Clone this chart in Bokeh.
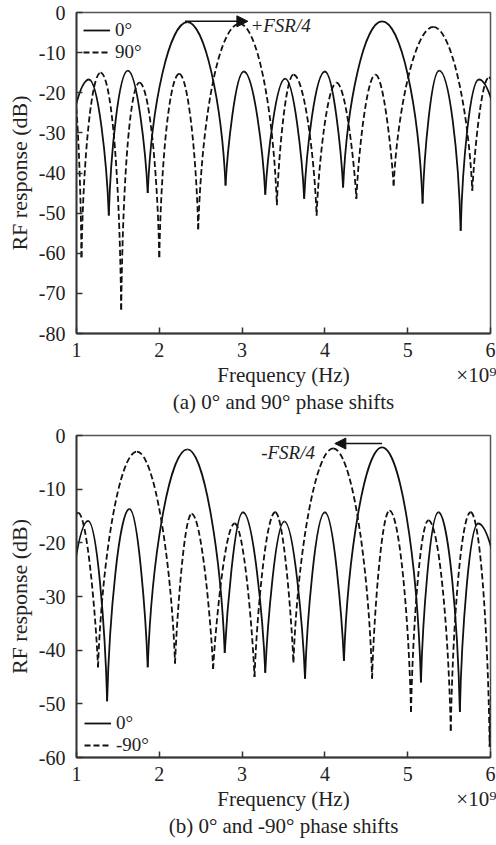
from bokeh.plotting import figure
from bokeh.models import (Range1d, Legend, LegendItem, Arrow, NormalHead, Label,
                          ColumnDataSource, LinearAxis, FixedTicker)
from bokeh.layouts import column
from bokeh.embed import file_html
from bokeh.resources import INLINE

FONT = "Liberation Serif"

# x ticks (x10^9 Hz)
x_ticks = [1, 2, 3, 4, 5, 6]
a_y_ticks = [0, -10, -20, -30, -40, -50, -60, -70, -80]
b_y_ticks = [0, -10, -20, -30, -40, -50, -60]

# Panel (a): extrema (alternating nulls / lobe peaks)
a0_freq = [0.82, 1.15, 1.39, 1.62, 1.86, 2.34, 2.80, 3.02, 3.28, 3.52, 3.75, 4.00,
           4.22, 4.69, 5.18, 5.38, 5.64, 5.86, 6.22]
a0_db = [-45, -16.7, -50.6, -14.5, -45.0, -2.4, -43.1, -14.7, -45.4, -16.5, -46.4, -14.7,
         -43.6, -2.2, -47.6, -14.5, -54.4, -16.7, -45]
a90_freq = [0.93, 1.06, 1.29, 1.54, 1.76, 2.00, 2.24, 2.47, 2.97, 3.42, 3.62, 3.90,
            4.14, 4.38, 4.61, 4.83, 5.31, 5.78, 5.98, 6.25]
a90_db = [-15, -61, -15.0, -74, -17.5, -61, -15.3, -54, -2.8, -48, -15.5, -50.6,
          -17.5, -46.4, -15.5, -43.1, -3.6, -44.4, -16.2, -45]

# Panel (b)
b0_freq = [0.84, 1.14, 1.37, 1.64, 1.86, 2.34, 2.79, 3.01, 3.28, 3.51, 3.76, 4.00,
           4.23, 4.69, 5.16, 5.37, 5.63, 5.85, 6.25]
b0_db = [-45, -15.9, -49.5, -13.7, -43.2, -2.6, -40.5, -14.3, -44.2, -16.0, -45.3, -14.3,
         -42.0, -2.2, -46.0, -14.3, -51.5, -16.4, -45]
bm90_freq = [0.78, 1.02, 1.26, 1.73, 2.19, 2.39, 2.65, 2.91, 3.15, 3.40, 3.62, 4.10,
             4.57, 4.78, 5.04, 5.25, 5.52, 5.76, 5.99, 6.22]
bm90_db = [-45, -14.4, -43.2, -3.0, -42.5, -14.6, -43.5, -16.4, -45.0, -14.3, -42.3, -2.4,
           -45.3, -14.0, -51.5, -15.8, -55.0, -14.3, -58.0, -15]

X_TITLE = "Frequency (Hz)"
X_EXP = "\u00d710\u2079"
CAP_A = "(a) 0\u00b0 and 90\u00b0 phase shifts"
CAP_B = "(b) 0\u00b0 and -90\u00b0 phase shifts"


def lobe_source(freqs, levels):
    d = dict(x0=[], y0=[], x1=[], y1=[], cx0=[], cy0=[], cx1=[], cy1=[])
    for i in range(len(freqs) - 1):
        fa, la, fb, lb = freqs[i], levels[i], freqs[i + 1], levels[i + 1]
        rising = la < lb
        if rising:
            fn, ln, fp, lp = fa, la, fb, lb
        else:
            fn, ln, fp, lp = fb, lb, fa, la
        w = fp - fn
        cn = (fn + 0.1 * w, max(lp - 20, ln))
        cp = (fn + 0.55 * w, lp)
        c0, c1 = (cn, cp) if rising else (cp, cn)
        d["x0"].append(fa); d["y0"].append(la)
        d["x1"].append(fb); d["y1"].append(lb)
        d["cx0"].append(c0[0]); d["cy0"].append(c0[1])
        d["cx1"].append(c1[0]); d["cy1"].append(c1[1])
    return ColumnDataSource(d)


def text_axis(p, ticks, labels, size, standoff):
    ax = LinearAxis(ticker=FixedTicker(ticks=ticks),
                    major_label_overrides=dict(zip(ticks, labels)))
    ax.axis_line_color = None
    ax.major_tick_line_color = None
    ax.minor_tick_line_color = None
    ax.major_tick_in = 0
    ax.major_tick_out = 0
    ax.major_label_standoff = standoff
    ax.major_label_text_font = FONT
    ax.major_label_text_font_size = size
    ax.major_label_text_color = "#222222"
    p.add_layout(ax, "below")


def make_panel(ymin, yticks, height, btop, bbottom, caption):
    p = figure(width=496, height=height, x_range=Range1d(1, 6), y_range=Range1d(ymin, 0),
               output_backend="svg", toolbar_location=None,
               min_border_left=76, min_border_right=6,
               min_border_top=btop, min_border_bottom=bbottom)
    p.background_fill_color = "white"
    p.border_fill_color = "white"
    p.grid.visible = False
    p.outline_line_color = "#555555"
    p.outline_line_width = 1.5
    p.xaxis.ticker = x_ticks
    p.yaxis.ticker = yticks
    p.yaxis.major_label_overrides = {v: str(v) for v in yticks}
    for ax in (p.xaxis, p.yaxis):
        ax.major_tick_in = 6
        ax.major_tick_out = 0
        ax.minor_tick_line_color = None
        ax.axis_line_color = "#333333"
        ax.axis_line_width = 1.8
        ax.major_tick_line_color = "#333333"
        ax.major_tick_line_width = 1.5
        ax.major_label_text_font = FONT
        ax.major_label_text_font_size = "20px"
        ax.major_label_text_color = "#222222"
    p.xaxis.major_label_standoff = 9
    p.yaxis.major_label_standoff = 11
    p.yaxis.axis_label = "RF response (dB)"
    p.yaxis.axis_label_text_font = FONT
    p.yaxis.axis_label_text_font_style = "normal"
    p.yaxis.axis_label_text_font_size = "22px"
    p.yaxis.axis_label_text_color = "#222222"
    p.yaxis.axis_label_standoff = 4
    text_axis(p, [3.5, 5.83], [X_TITLE, X_EXP], "21px", 3)
    text_axis(p, [3.5], [caption], "21px", 0)
    return p


def draw_curves(p, f0, d0, f1, d1, lab0, lab1, legend_loc, marg):
    p.bezier(x0="x0", y0="y0", x1="x1", y1="y1", cx0="cx0", cy0="cy0", cx1="cx1",
             cy1="cy1", source=lobe_source(f0, d0), line_color="#111111", line_width=1.8)
    p.bezier(x0="x0", y0="y0", x1="x1", y1="y1", cx0="cx0", cy0="cy0", cx1="cx1",
             cy1="cy1", source=lobe_source(f1, d1), line_color="#111111", line_width=1.8,
             line_dash="6 3")
    # legend samples only (kept outside the visible range)
    r0 = p.line(x=[-3, -2], y=[-200, -200], line_color="#111111", line_width=1.8)
    r1 = p.line(x=[-3, -2], y=[-200, -200], line_color="#111111", line_width=1.8,
                line_dash="6 3")
    leg = Legend(items=[LegendItem(label=lab0, renderers=[r0]),
                        LegendItem(label=lab1, renderers=[r1])],
                 location=legend_loc, margin=marg, padding=0, spacing=0,
                 glyph_width=27, glyph_height=18, label_height=18, label_standoff=5,
                 label_text_font=FONT, label_text_font_size="19px",
                 label_text_color="#222222",
                 background_fill_alpha=0, border_line_color=None)
    p.add_layout(leg)


# ---- panel (a)
pa = make_panel(-80, a_y_ticks, 419, 12, 86, CAP_A)
draw_curves(pa, a0_freq, a0_db, a90_freq, a90_db, "0\u00b0", "90\u00b0", "top_left", 7)
pa.add_layout(Arrow(end=NormalHead(size=11, fill_color="#111111", line_color="#111111"),
                    x_start=2.31, y_start=-2.2, x_end=3.07, y_end=-2.2,
                    line_color="#111111", line_width=1.5))
pa.add_layout(Label(x=3.10, y=-3.2, text="+FSR/4", text_font=FONT, text_font_size="19px",
                    text_font_style="italic", text_color="#222222",
                    text_baseline="middle", text_align="left"))

# ---- panel (b)
pb = make_panel(-60, b_y_ticks, 424, 16, 86, CAP_B)
draw_curves(pb, b0_freq, b0_db, bm90_freq, bm90_db, "0\u00b0", "-90\u00b0", (8, 1), 0)
pb.add_layout(Arrow(end=NormalHead(size=11, fill_color="#111111", line_color="#111111"),
                    x_start=4.69, y_start=-1.5, x_end=4.12, y_end=-1.5,
                    line_color="#111111", line_width=1.5))
pb.add_layout(Label(x=3.88, y=-3.1, text="-FSR/4", text_font=FONT, text_font_size="19px",
                    text_font_style="italic", text_color="#222222",
                    text_baseline="middle", text_align="right"))

layout = column(pa, pb, spacing=0)
open("out.html", "w").write(file_html(layout, INLINE))
